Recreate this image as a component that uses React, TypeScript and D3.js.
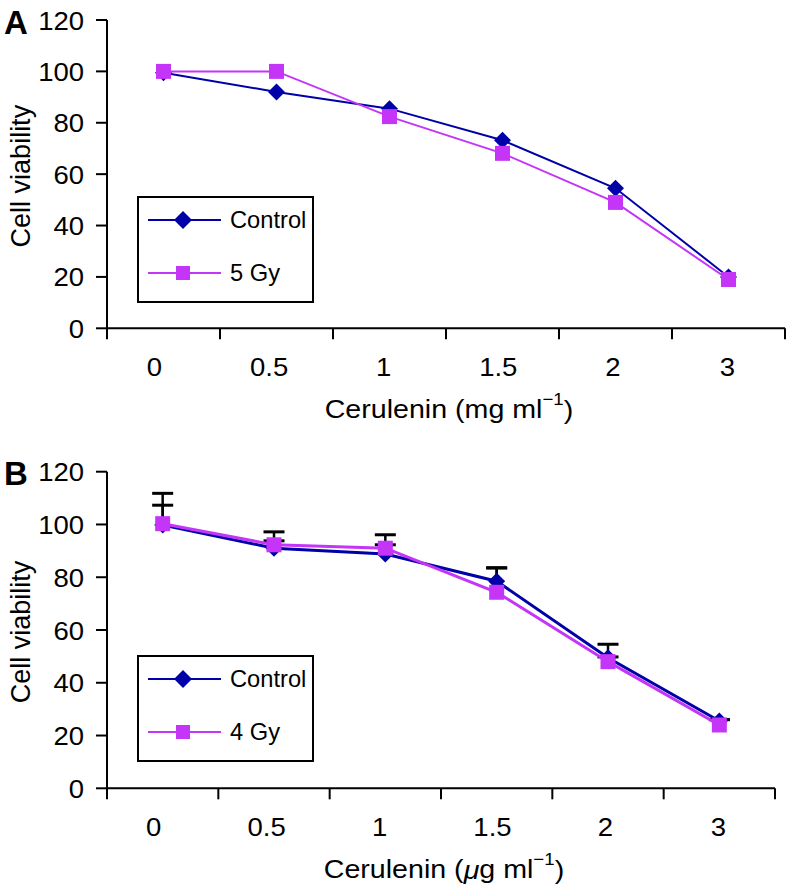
import React from "react";
import * as d3 from "d3";

const categories = ["0", "0.5", "1", "1.5", "2", "3"];
const yTicks = [0, 20, 40, 60, 80, 100, 120];

const controlA = [99.5, 92, 85.5, 73.2, 54.5, 20];
const gy5A = [100, 100, 82.4, 68.1, 49, 19];

const controlB = [99.8, 91, 88.8, 78.5, 49.5, 25.5];
const gy4B = [100.3, 92.3, 91, 74.3, 48, 24];
const controlErrB = [12, 6.2, 7.3, 5, 5.1, 0.6];
const gy4ErrB = [7, 1.5, 1.3, 9.3, 1.8, 2];

const FONT = "'Liberation Sans', Arial, Helvetica, sans-serif";
const BLUE = "#0000A8";
const MAGENTA = "#C535F7";
const SX = 1.1;

type PanelProps = {
  letter: string;
  top: number;
  bottom: number;
  left: number;
  right: number;
  ctrl: number[];
  trt: number[];
  trtName: string;
  ctrlErr?: number[];
  trtErr?: number[];
  micro: boolean;
  legendTop: number;
  lineW: number;
};

function diamond(h: number) {
  return `M0,${-h}L${h},0L0,${h}L${-h},0Z`;
}

function STxt({ x, y, children, size, anchor = "middle", weight = "normal", sx = SX }: any) {
  return (
    <text
      transform={`translate(${x},${y}) scale(${sx},1)`}
      textAnchor={anchor}
      dominantBaseline="central"
      fontSize={size}
      fontWeight={weight}
      fontFamily={FONT}
      fill="#000"
    >
      {children}
    </text>
  );
}

function Panel(p: PanelProps) {
  const x = d3.scaleBand<string>().domain(categories).range([p.left, p.right]).padding(0);
  const y = d3.scaleLinear().domain([0, 120]).range([p.bottom, p.top]);
  const cx = (c: string) => (x(c) as number) + x.bandwidth() / 2;
  const line = d3
    .line<number>()
    .x((_, i) => cx(categories[i]))
    .y((d) => y(d));
  const tickPositions = [...categories.map((c) => x(c) as number), p.right];
  const capW = 10.5;
  const errBars = (vals: number[], errs?: number[]) =>
    errs
      ? vals.map((v, i) => {
          const xx = cx(categories[i]);
          return (
            <g key={i}>
              <line x1={xx} x2={xx} y1={y(v)} y2={y(v + errs[i])} stroke="#000" strokeWidth={2.5} />
              <line x1={xx - capW} x2={xx + capW} y1={y(v + errs[i])} y2={y(v + errs[i])} stroke="#000" strokeWidth={3} />
            </g>
          );
        })
      : null;
  const lt = p.legendTop;
  return (
    <g>
      {/* panel letter */}
      <STxt x={16} y={p.top + 2} size={33} weight="bold" sx={1.0}>
        {p.letter}
      </STxt>
      {/* y axis */}
      <line x1={p.left} x2={p.left} y1={p.top} y2={p.bottom} stroke="#000" strokeWidth={2} />
      {yTicks.map((t) => (
        <g key={t}>
          <line x1={p.left - 11} x2={p.left} y1={y(t)} y2={y(t)} stroke="#000" strokeWidth={2} />
          <STxt x={84} y={y(t) + 1} size={25} anchor="end">
            {t}
          </STxt>
        </g>
      ))}
      {/* x axis */}
      <line x1={p.left} x2={p.right} y1={p.bottom} y2={p.bottom} stroke="#000" strokeWidth={2} />
      {tickPositions.map((t, i) => (
        <line key={i} x1={t} x2={t} y1={p.bottom} y2={p.bottom + 11} stroke="#000" strokeWidth={2} />
      ))}
      {categories.map((c, i) => (
        <STxt key={c} x={cx(c) - 9 + i * 1.6} y={p.bottom + 39} size={25}>
          {c}
        </STxt>
      ))}
      {/* axis titles */}
      <text
        transform={`translate(${p.left + (p.right - p.left) / 2 + 3},${p.bottom + 81}) scale(${SX},1)`}
        textAnchor="middle"
        dominantBaseline="central"
        fontSize={26}
        fontFamily={FONT}
      >
        Cerulenin (
        {p.micro ? <tspan fontStyle="italic">μ</tspan> : "m"}g ml
        <tspan dy={-10} fontSize={17}>−1</tspan>
        <tspan dy={10}>)</tspan>
      </text>
      <text
        transform={`translate(21,${(p.top + p.bottom) / 2 + 2}) rotate(-90)`}
        textAnchor="middle"
        dominantBaseline="central"
        fontSize={27}
        fontFamily={FONT}
      >
        Cell viability
      </text>
      {/* error bars */}
      {errBars(p.ctrl, p.ctrlErr)}
      {errBars(p.trt, p.trtErr)}
      {/* series */}
      <path d={line(p.ctrl) || ""} fill="none" stroke={BLUE} strokeWidth={p.lineW} />
      {p.ctrl.map((v, i) => (
        <path key={i} d={diamond(8.5)} transform={`translate(${cx(categories[i])},${y(v)})`} fill={BLUE} />
      ))}
      <path d={line(p.trt) || ""} fill="none" stroke={MAGENTA} strokeWidth={p.lineW} />
      {p.trt.map((v, i) => (
        <rect key={i} x={cx(categories[i]) - 7.5} y={y(v) - 7.5} width={15} height={15} fill={MAGENTA} />
      ))}
      {/* legend */}
      <rect x={138} y={lt} width={175} height={105} fill="#fff" stroke="#000" strokeWidth={2} />
      <line x1={148} x2={221} y1={lt + 23} y2={lt + 23} stroke={BLUE} strokeWidth={2} />
      <path d={diamond(9)} transform={`translate(183,${lt + 23})`} fill={BLUE} />
      <STxt x={230} y={lt + 23} size={23} anchor="start" sx={1.03}>
        Control
      </STxt>
      <line x1={148} x2={221} y1={lt + 76} y2={lt + 76} stroke={MAGENTA} strokeWidth={2} />
      <rect x={176} y={lt + 69} width={14} height={14} fill={MAGENTA} />
      <STxt x={230} y={lt + 76} size={23} anchor="start" sx={1.03}>
        {p.trtName}
      </STxt>
    </g>
  );
}

export default function App() {
  return (
    <svg width={794} height={894} style={{ position: "absolute", left: 0, top: 0, background: "#fff" }}>
      <rect width={794} height={894} fill="#fff" />
      <Panel
        letter="A"
        top={20}
        bottom={328.3}
        left={107}
        right={785}
        ctrl={controlA}
        trt={gy5A}
        trtName="5 Gy"
        micro={false}
        legendTop={197}
        lineW={2}
      />
      <Panel
        letter="B"
        top={471.7}
        bottom={788.3}
        left={107}
        right={775}
        ctrl={controlB}
        trt={gy4B}
        trtName="4 Gy"
        ctrlErr={controlErrB}
        trtErr={gy4ErrB}
        micro={true}
        legendTop={656}
        lineW={3}
      />
    </svg>
  );
}
